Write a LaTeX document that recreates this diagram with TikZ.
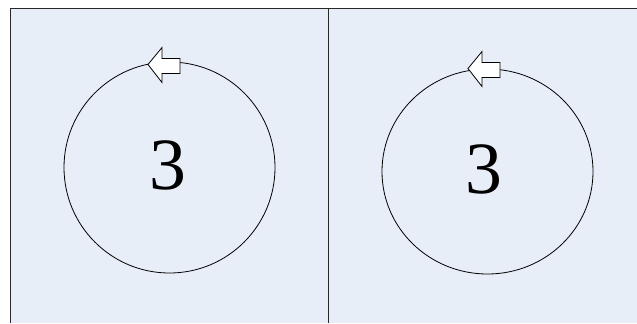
\documentclass[tikz,border=0pt]{standalone}
\usepackage{fontspec}
\setmainfont{Liberation Serif}
\usepackage{tikz}
\usetikzlibrary{calc}
\definecolor{panelblue}{RGB}{232,238,248}
\definecolor{framedark}{RGB}{40,40,40}
\tikzset{
  panel/.style={fill=panelblue,draw=none},
  frameline/.style={draw=framedark,line width=0.9bp},
  turn/.style={draw=black,line width=0.8bp},
  digit/.style={font=\fontsize{74}{74}\selectfont,inner sep=0pt},
  blockarrow/.style={draw=black,fill=white,line width=0.8bp,line join=miter},
}
\begin{document}
\begin{tikzpicture}[x=1bp,y=-1bp]
  \useasboundingbox (0,0) rectangle (637,323);
  \fill[white] (0,0) rectangle (637,323);
  \fill[panel] (10,8) rectangle (637,323);
  \draw[frameline] (10,323) -- (10,8) -- (637,8);
  \draw[frameline] (328.5,8) -- (328.5,323);

  % left panel
  \coordinate (lc) at (169.5,167.5);
  \draw[turn] (lc) ellipse [x radius=105.5,y radius=105.5];
  \node[digit] (lnum) at (168,165) {3};
  \coordinate (ltip) at (148,64.5);
  \draw[blockarrow] (ltip) -- ++(14,-17) -- ++(0,11) -- ++(18,0) -- ++(0,15) -- ++(-18,0) -- ++(0,9) -- cycle;

  % right panel
  \coordinate (rc) at (487.5,171.5);
  \draw[turn] (rc) ellipse [x radius=105.5,y radius=102.5];
  \node[digit] (rnum) at (484,169) {3};
  \coordinate (rtip) at (468,68.5);
  \draw[blockarrow] (rtip) -- ++(14,-17) -- ++(0,11) -- ++(18,0) -- ++(0,15) -- ++(-18,0) -- ++(0,9) -- cycle;
\end{tikzpicture}
\end{document}
